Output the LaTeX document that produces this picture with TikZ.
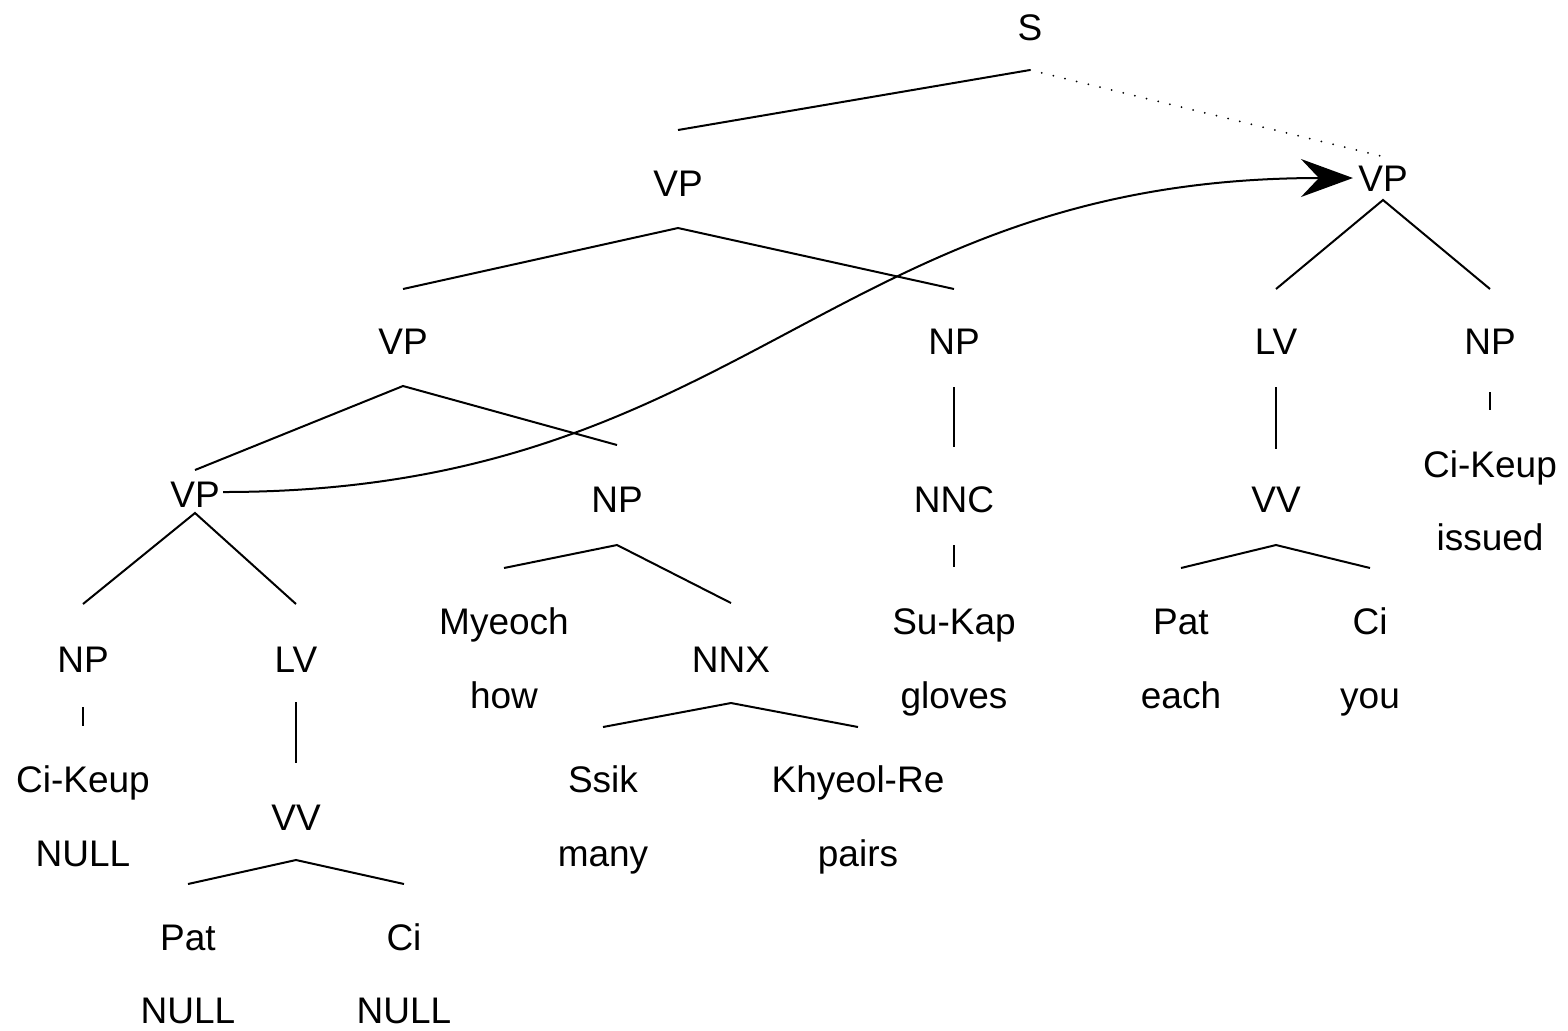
\documentclass[tikz,border=0pt]{standalone}
\usepackage{fontspec}
\setmainfont{Liberation Sans}
\usetikzlibrary{arrows.meta}
\begin{document}
\begin{tikzpicture}[x=0.5pt,y=-0.5pt,
  lbl/.style={inner sep=0pt,text height=13.5pt,text depth=0pt,font=\fontsize{18.5}{22}\selectfont},
  edge/.style={line width=1pt},
  dotedge/.style={line width=1pt,line cap=round,dash pattern=on 0pt off 6pt}]
\useasboundingbox (0,0) rectangle (1568,1030);
% labels
\node[lbl] (S) at (1030,27) {S};
\node[lbl] (vp1) at (678,183) {VP};
\node[lbl] (vp2) at (403,341) {VP};
\node[lbl] (np1) at (954,341) {NP};
\node[lbl] (vp3) at (195,494) {VP};
\node[lbl] (np2) at (617,499) {NP};
\node[lbl] (myeoch) at (504,621) {Myeoch};
\node[lbl] (how) at (504,695) {how};
\node[lbl] (nnx) at (731,659) {NNX};
\node[lbl] (ssik) at (603,779) {Ssik};
\node[lbl] (many) at (603,853) {many};
\node[lbl] (khy) at (858,779) {Khyeol-Re};
\node[lbl] (pairs) at (858,853) {pairs};
\node[lbl] (np3) at (83,659) {NP};
\node[lbl] (lv1) at (296,659) {LV};
\node[lbl] (ck1) at (83,779) {Ci-Keup};
\node[lbl] (null1) at (83,853) {NULL};
\node[lbl] (vv1) at (296,817) {VV};
\node[lbl] (pat1) at (188,937) {Pat};
\node[lbl] (ci1) at (404,937) {Ci};
\node[lbl] (null2) at (188,1010) {NULL};
\node[lbl] (null3) at (404,1010) {NULL};
\node[lbl] (nnc) at (954,499) {NNC};
\node[lbl] (sukap) at (954,621) {Su-Kap};
\node[lbl] (gloves) at (954,695) {gloves};
\node[lbl] (vpr) at (1383,178) {VP};
\node[lbl] (lv2) at (1276,341) {LV};
\node[lbl] (np4) at (1490,341) {NP};
\node[lbl] (vv2) at (1276,499) {VV};
\node[lbl] (pat2) at (1181,621) {Pat};
\node[lbl] (each) at (1181,695) {each};
\node[lbl] (ci2) at (1370,621) {Ci};
\node[lbl] (you) at (1370,695) {you};
\node[lbl] (ck2) at (1490,464) {Ci-Keup};
\node[lbl] (issued) at (1490,537) {issued};
% branch points
\coordinate (Sb) at (1030,70);
\coordinate (vp1t) at (678,130);
\coordinate (vprt) at (1385,157);
\coordinate (vp1b) at (678,228);
\coordinate (vp2t) at (403,289);
\coordinate (np1t) at (954,289);
\coordinate (vp2b) at (403,386);
\coordinate (vp3t) at (195,470);
\coordinate (np2t) at (617,445);
\coordinate (np2b) at (617,545);
\coordinate (myt) at (504,568);
\coordinate (nnxt) at (731,603);
\coordinate (nnxb) at (731,703);
\coordinate (ssikt) at (603,727);
\coordinate (khyt) at (858,727);
\coordinate (vp3b) at (195,513);
\coordinate (np3t) at (83,604);
\coordinate (lv1t) at (296,604);
\coordinate (np3b) at (83,707);
\coordinate (ck1t) at (83,726);
\coordinate (lv1b) at (296,702);
\coordinate (vv1t) at (296,763);
\coordinate (vv1b) at (296,860);
\coordinate (pat1t) at (188,884);
\coordinate (ci1t) at (404,884);
\coordinate (np1b) at (954,387);
\coordinate (nnct) at (954,447);
\coordinate (nncb) at (954,545);
\coordinate (sukapt) at (954,567);
\coordinate (vprb) at (1383,200);
\coordinate (lv2t) at (1276,289);
\coordinate (np4t) at (1490,289);
\coordinate (lv2b) at (1276,387);
\coordinate (vv2t) at (1276,449);
\coordinate (vv2b) at (1276,545);
\coordinate (pat2t) at (1181,568);
\coordinate (ci2t) at (1370,568);
\coordinate (np4b) at (1490,392);
\coordinate (ck2t) at (1490,410);
% edges
\draw[edge] (vp1t) -- (Sb);
\draw[dotedge] (Sb) -- (vprt);
\draw[edge] (vp2t) -- (vp1b) -- (np1t);
\draw[edge] (vp3t) -- (vp2b) -- (np2t);
\draw[edge] (myt) -- (np2b) -- (nnxt);
\draw[edge] (ssikt) -- (nnxb) -- (khyt);
\draw[edge] (np3t) -- (vp3b) -- (lv1t);
\draw[edge] (np3b) -- (ck1t);
\draw[edge] (lv1b) -- (vv1t);
\draw[edge] (pat1t) -- (vv1b) -- (ci1t);
\draw[edge] (np1b) -- (nnct);
\draw[edge] (nncb) -- (sukapt);
\draw[edge] (lv2t) -- (vprb) -- (np4t);
\draw[edge] (lv2b) -- (vv2t);
\draw[edge] (pat2t) -- (vv2b) -- (ci2t);
\draw[edge] (np4b) -- (ck2t);
% movement arrow
\draw[edge,shorten >=2.5pt,-{Stealth[length=26pt,width=19pt,inset=9pt]}] (vp3.east) ++(3,-2) coordinate (arrS)
  (arrS) .. controls (745,492) and (830,178) .. (vpr.west);
\end{tikzpicture}
\end{document}
